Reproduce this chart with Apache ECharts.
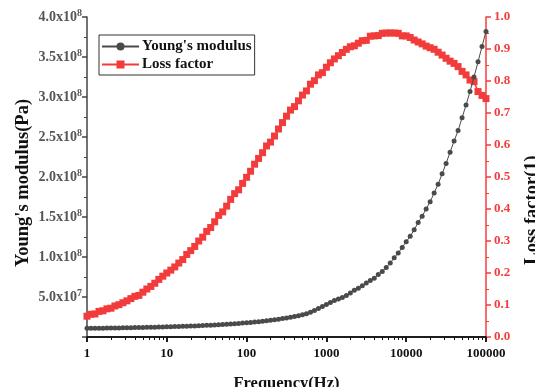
<!DOCTYPE html>
<html>
<head>
<meta charset="utf-8">
<script src="https://cdn.jsdelivr.net/npm/echarts@6/dist/echarts.min.js"></script>
<style>html,body{margin:0;padding:0;background:#fff}#c{width:535px;height:387px}</style>
</head>
<body>
<div id="c"></div>
<script>
const frequency = [
  1, 1.122, 1.259, 1.413, 1.585, 1.778, 1.995, 2.239, 2.512, 2.818, 3.162, 3.548, 3.981, 4.467, 5.012, 5.623, 6.310, 7.079, 7.943, 8.913,
  10, 11.22, 12.59, 14.13, 15.85, 17.78, 19.95, 22.39, 25.12, 28.18, 31.62, 35.48, 39.81, 44.67, 50.12, 56.23, 63.10, 70.79, 79.43, 89.13,
  100, 112.2, 125.9, 141.3, 158.5, 177.8, 199.5, 223.9, 251.2, 281.8, 316.2, 354.8, 398.1, 446.7, 501.2, 562.3, 631.0, 707.9, 794.3, 891.3,
  1000, 1122, 1259, 1413, 1585, 1778, 1995, 2239, 2512, 2818, 3162, 3548, 3981, 4467, 5012, 5623, 6310, 7079, 7943, 8913,
  10000, 11220, 12589, 14125, 15849, 17783, 19953, 22387, 25119, 28184, 31623, 35481, 39811, 44668, 50119, 56234, 63096, 70795, 79433, 89125,
  100000
];
const youngsModulus = [
  1.08e7, 1.09e7, 1.09e7, 1.10e7, 1.10e7, 1.11e7, 1.12e7, 1.13e7, 1.14e7, 1.15e7, 1.16e7, 1.17e7, 1.18e7, 1.19e7, 1.20e7, 1.21e7, 1.22e7, 1.23e7, 1.24e7, 1.25e7,
  1.27e7, 1.28e7, 1.30e7, 1.31e7, 1.33e7, 1.35e7, 1.37e7, 1.39e7, 1.41e7, 1.43e7, 1.46e7, 1.48e7, 1.51e7, 1.54e7, 1.57e7, 1.60e7, 1.63e7, 1.66e7, 1.70e7, 1.74e7,
  1.78e7, 1.82e7, 1.87e7, 1.92e7, 1.97e7, 2.03e7, 2.09e7, 2.16e7, 2.23e7, 2.30e7, 2.38e7, 2.47e7, 2.56e7, 2.66e7, 2.77e7, 2.92e7, 3.10e7, 3.30e7, 3.55e7, 3.80e7,
  4.05e7, 4.30e7, 4.55e7, 4.75e7, 4.95e7, 5.20e7, 5.50e7, 5.85e7, 6.10e7, 6.40e7, 6.75e7, 7.05e7, 7.35e7, 7.80e7, 8.20e7, 8.70e7, 9.25e7, 9.90e7, 1.05e8, 1.12e8,
  1.19e8, 1.26e8, 1.34e8, 1.43e8, 1.51e8, 1.60e8, 1.69e8, 1.80e8, 1.91e8, 2.04e8, 2.17e8, 2.31e8, 2.45e8, 2.58e8, 2.74e8, 2.90e8, 3.07e8, 3.25e8, 3.44e8, 3.63e8,
  3.82e8
];
const lossFactor = [
  0.065, 0.071, 0.072, 0.080, 0.082, 0.088, 0.090, 0.097, 0.101, 0.107, 0.113, 0.120, 0.127, 0.130, 0.140, 0.150, 0.158, 0.168, 0.180, 0.190,
  0.200, 0.209, 0.219, 0.231, 0.242, 0.258, 0.270, 0.283, 0.300, 0.312, 0.330, 0.342, 0.360, 0.380, 0.391, 0.409, 0.430, 0.448, 0.460, 0.480,
  0.499, 0.518, 0.540, 0.558, 0.576, 0.597, 0.609, 0.628, 0.650, 0.670, 0.690, 0.709, 0.720, 0.738, 0.756, 0.769, 0.790, 0.801, 0.819, 0.826,
  0.843, 0.857, 0.869, 0.879, 0.889, 0.899, 0.907, 0.910, 0.918, 0.926, 0.927, 0.940, 0.941, 0.942, 0.949, 0.950, 0.950, 0.950, 0.949, 0.941,
  0.941, 0.936, 0.928, 0.922, 0.916, 0.909, 0.904, 0.899, 0.890, 0.881, 0.871, 0.862, 0.855, 0.845, 0.830, 0.819, 0.803, 0.798, 0.767, 0.755,
  0.745
];
const seriesNames = ["Young's modulus", "Loss factor"];
const axisNames = { x: 'Frequency(Hz)', yLeft: "Young's modulus(Pa)", yRight: 'Loss factor(1)' };

const FONT = 'Liberation Serif';
const RED = '#f23c3c';
const GRAY = '#4a4a4a';

function sciLabel(v) {
  if (v === 0) return '';
  const exp = Math.floor(Math.log10(v) + 1e-9);
  const mant = (v / Math.pow(10, exp)).toFixed(1);
  return '{m|' + mant + 'x10}{s|' + exp + '}';
}

const chart = echarts.init(document.getElementById('c'), null, { renderer: 'canvas' });
chart.setOption({
  animation: false,
  backgroundColor: '#fff',
  textStyle: { fontFamily: FONT },
  grid: { left: 87, right: 49, top: 17, bottom: 50, containLabel: false, outerBoundsMode: 'none' },
  legend: {
    orient: 'vertical', left: 99, top: 35,
    padding: [4, 3, 3, 2], itemGap: 3,
    itemWidth: 37, itemHeight: 10,
    borderColor: '#333', borderWidth: 1,
    textStyle: { fontFamily: FONT, fontWeight: 'bold', fontSize: 15, color: '#111', padding: [0, 0, 0, -2] },
    data: seriesNames
  },
  xAxis: [
    {
      type: 'log', logBase: 10, min: 1, max: 100000, position: 'bottom',
      name: axisNames.x, nameLocation: 'middle', nameGap: 38,
      nameTextStyle: { fontFamily: FONT, fontWeight: 'bold', fontSize: 16.5, color: '#111' },
      axisLine: { show: true, lineStyle: { color: '#111', width: 1.5 } },
      axisTick: { show: true, inside: false, length: 5, lineStyle: { color: '#111', width: 1.5 } },
      minorTick: { show: true, splitNumber: 9, length: 3, lineStyle: { color: '#111', width: 1 } },
      axisLabel: { fontFamily: FONT, fontWeight: 'bold', fontSize: 13, color: '#111', margin: 10,
        formatter: v => String(Math.round(v)) },
      splitLine: { show: false }, minorSplitLine: { show: false }
    },
    {
      type: 'log', logBase: 10, min: 1, max: 100000, position: 'top',
      axisLine: { show: true, lineStyle: { color: '#111', width: 1.5 } },
      axisTick: { show: true, inside: true, length: 5, lineStyle: { color: '#111', width: 1.5 } },
      minorTick: { show: true, splitNumber: 9, length: 3, lineStyle: { color: '#111', width: 1 } },
      axisLabel: { show: false },
      splitLine: { show: false }
    }
  ],
  yAxis: [
    {
      type: 'value', min: 0, max: 4e8, interval: 5e7, position: 'left',
      name: axisNames.yLeft, nameLocation: 'middle', nameGap: 54, nameRotate: 90, nameMoveOverlap: false,
      nameTextStyle: { fontFamily: FONT, fontWeight: 'bold', fontSize: 18.5, color: '#111', padding: [0, 12, 0, 0] },
      axisLine: { show: true, lineStyle: { color: '#444', width: 1.5 } },
      axisTick: { show: true, inside: false, length: 5, lineStyle: { color: '#444', width: 1.5 } },
      minorTick: { show: true, splitNumber: 2, length: 3, lineStyle: { color: '#444', width: 1 } },
      axisLabel: {
        margin: 5, formatter: sciLabel, fontWeight: 'bold', fontSize: 14, color: '#555',
        rich: {
          m: { fontFamily: FONT, fontWeight: 'bold', fontSize: 14, color: '#555' },
          s: { fontFamily: FONT, fontWeight: 'bold', fontSize: 10, color: '#555', padding: [0, 0, 8, 0] }
        }
      },
      splitLine: { show: false }
    },
    {
      type: 'value', min: 0, max: 1, interval: 0.1, position: 'right',
      name: axisNames.yRight, nameLocation: 'middle', nameGap: 37, nameRotate: 90,
      nameTextStyle: { fontFamily: FONT, fontWeight: 'bold', fontSize: 18.5, color: '#111', padding: [0, 66, 0, 0] },
      axisLine: { show: true, lineStyle: { color: RED, width: 1.5 } },
      axisTick: { show: true, inside: false, length: 5, lineStyle: { color: RED, width: 1.5 } },
      minorTick: { show: true, splitNumber: 2, length: 3, lineStyle: { color: RED, width: 1 } },
      axisLabel: { fontFamily: FONT, fontWeight: 'bold', fontSize: 13, color: RED, margin: 8,
        formatter: v => v.toFixed(1) },
      splitLine: { show: false }
    }
  ],
  series: [
    {
      name: seriesNames[0], type: 'line', xAxisIndex: 0, yAxisIndex: 0,
      data: frequency.map((f, i) => [f, youngsModulus[i]]),
      symbol: 'circle', symbolSize: 5, showAllSymbol: true,
      lineStyle: { color: GRAY, width: 1 }, itemStyle: { color: GRAY },
      z: 3
    },
    {
      name: seriesNames[1], type: 'line', xAxisIndex: 0, yAxisIndex: 1,
      data: frequency.map((f, i) => [f, lossFactor[i]]),
      symbol: 'rect', symbolSize: 7, showAllSymbol: true,
      lineStyle: { color: RED, width: 1.5 }, itemStyle: { color: RED },
      z: 2
    }
  ]
});
</script>
</body>
</html>
